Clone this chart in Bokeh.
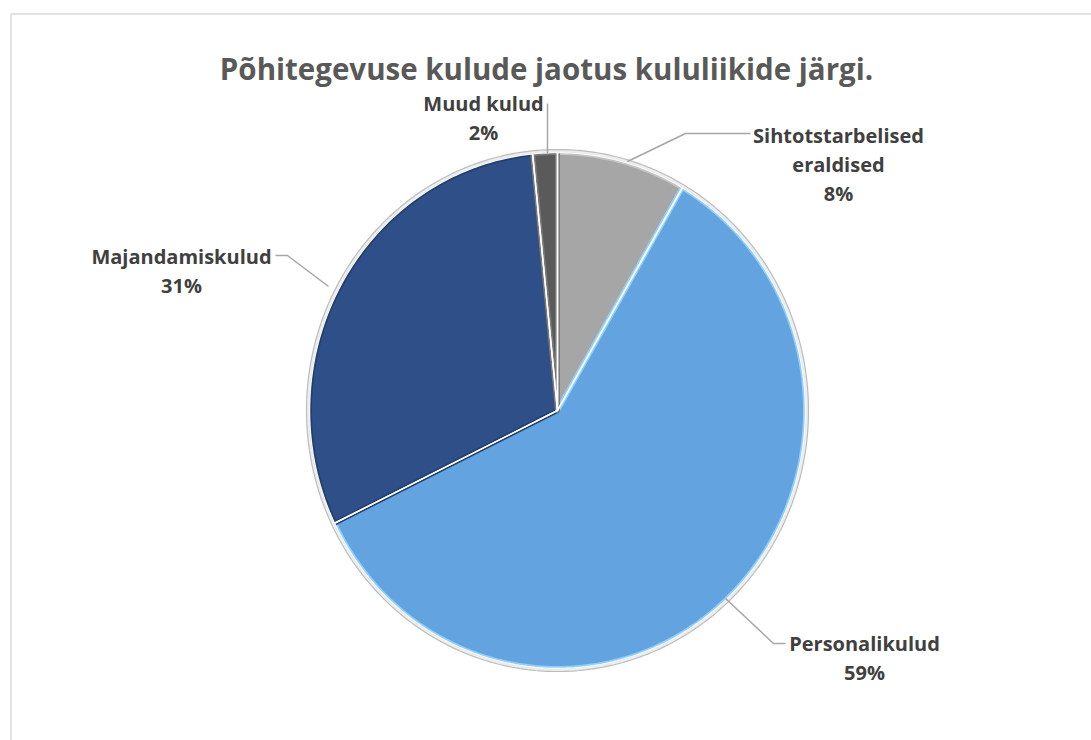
import math
import numpy as np
from bokeh.plotting import figure
from bokeh.models import Range1d
from bokeh.core.properties import value
from bokeh.embed import file_html
from bokeh.resources import INLINE

# ---- data ----
title = "Põhitegevuse kulude jaotus kululiikide järgi."
categories = ["Sihtotstarbelised eraldised", "Personalikulud", "Majandamiskulud", "Muud kulud"]
label_lines = [["Sihtotstarbelised", "eraldised"], ["Personalikulud"], ["Majandamiskulud"], ["Muud kulud"]]
values = [8.4, 59.4, 30.6, 1.6]
colors = ["#a6a6a6", "#62a3e0", "#2f4f88", "#5a5a5a"]
edge_colors = ["#c4c4c4", "#8fd0fb", "#22406f", "#7a7a7a"]

# ---- layout (screen pixels) ----
W, H = 1091, 740
CX, CY, RX, RY = 557, 410, 248, 258
label_pos = [(838, 135), (864, 643), (181, 256), (483, 103)]  # centre x, first baseline
line_gap = 29
leaders = [
    [(750, 133), (685, 133), (627, 161)],
    [(785, 643), (773, 643), (725, 598)],
    [(275, 255), (287, 255), (328, 286)],
    [(547, 103), (547, 153)],
]

def Y(py):
    return H - py

p = figure(width=W, height=H, output_backend="svg", toolbar_location=None,
           x_range=Range1d(0, W), y_range=Range1d(0, H), min_border=0)
p.axis.visible = False
p.grid.visible = False
p.outline_line_color = None
p.background_fill_color = "white"
p.border_fill_color = "white"

# chart-area border (extends beyond the window to right/bottom)
p.line([10.5, 10.5, W + 5], [Y(H + 5), Y(13.5), Y(13.5)], line_color="#d9d9d9", line_width=1.5)

total = sum(values)
fr = np.cumsum([0] + values) / total
xs, ys = [], []
for i in range(len(values)):
    th = np.linspace(2 * np.pi * fr[i], 2 * np.pi * fr[i + 1], max(4, int(400 * (fr[i + 1] - fr[i]))))
    px = np.concatenate([[CX], CX + RX * np.sin(th), [CX]])
    py = np.concatenate([[CY], CY - RY * np.cos(th), [CY]])
    xs.append(list(px))
    ys.append([Y(v) for v in py])

for i in range(len(values)):
    p.patch(xs[i], ys[i], fill_color=colors[i], line_color=edge_colors[i], line_width=5,
            line_join="round")
for i in range(len(values)):
    p.patch(xs[i], ys[i], fill_color=None, line_color="white", line_width=1.5)

# outer bevel rim
th = np.linspace(0, 2 * np.pi, 400)
p.line(list(CX + (RX + 1.5) * np.sin(th)), [Y(v) for v in CY - (RY + 1.5) * np.cos(th)],
       line_color="#ededed", line_width=3)
p.line(list(CX + (RX + 3) * np.sin(th)), [Y(v) for v in CY - (RY + 3) * np.cos(th)],
       line_color="#bdbdbd", line_width=1.2)

# leader lines
for pts in leaders:
    p.line([q[0] for q in pts], [Y(q[1]) for q in pts], line_color="#a6a6a6", line_width=1.5)

# labels
for lines, v, (lx, ly) in zip(label_lines, values, label_pos):
    allines = lines + [f"{round(v / total * 100)}%"]
    for i, t in enumerate(allines):
        p.text(x=[lx], y=[Y(ly + i * line_gap)], text=[t], text_align="center",
               text_baseline="alphabetic", text_font=value("Open Sans"),
               text_font_style="bold", text_font_size="20px", text_color="#404040")

# title
p.text(x=[546], y=[Y(68)], text=[title], text_align="center", text_baseline="alphabetic",
       text_font=value("Open Sans"), text_font_style="bold", text_font_size="29.5px",
       text_color="#595959")

open("out.html", "w").write(file_html(p, INLINE))
